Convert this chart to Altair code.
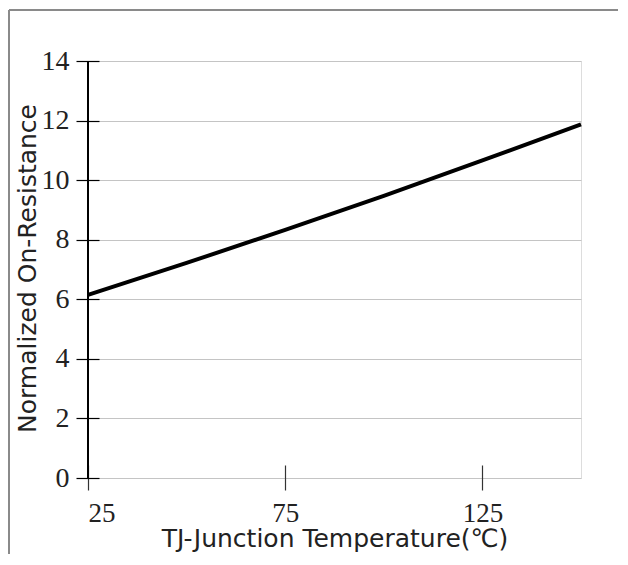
import altair as alt
import pandas as pd

# data
temps = [25, 50, 75, 100, 125, 150]
resist = [6.15, 7.22, 8.33, 9.47, 10.66, 11.87]
x_ticks = [25, 75, 125]
y_ticks = [0, 2, 4, 6, 8, 10, 12, 14]

df = pd.DataFrame({"t": temps, "r": resist})

W, H = 493, 417

x_scale = alt.Scale(domain=[25, 150], nice=False, zero=False)
y_scale = alt.Scale(domain=[0, 14], nice=False, zero=True)

line = alt.Chart(df).mark_line(color="black", strokeWidth=4).encode(
    x=alt.X("t:Q", scale=x_scale,
            axis=alt.Axis(values=x_ticks, title="TJ-Junction Temperature(℃)",
                          domain=False, grid=False, offset=-13, tickSize=25,
                          tickColor="#333333", tickWidth=1.2,
                          labelFont="Liberation Serif", labelFontSize=27,
                          labelColor="#222222", labelPadding=10,
                          titleFont="DejaVu Sans", titleFontSize=25,
                          titleFontWeight="normal", titleColor="#222222",
                          titleBaseline="alphabetic", titleY=81,
                          titleX=W / 2, titleAlign="center")),
    y=alt.Y("r:Q", scale=y_scale,
            axis=alt.Axis(values=y_ticks, title="Normalized On-Resistance",
                          domain=False, grid=True, gridColor="#c4c4c4",
                          gridWidth=1.2, offset=-11, tickSize=23,
                          tickColor="black", tickWidth=1.2,
                          labelFont="Liberation Serif", labelFontSize=28,
                          labelColor="#222222", labelPadding=7,
                          titleFont="DejaVu Sans", titleFontSize=25,
                          titleFontWeight="normal", titleColor="#222222",
                          titleBaseline="alphabetic", titleAngle=-90,
                          titleAlign="center", titleX=-64, titleY=207)),
)

yaxis_line = alt.Chart(df).mark_rule(color="black", strokeWidth=1.5).encode(
    x=alt.value(0), y=alt.value(0), y2=alt.value(H)
)
frame_top = alt.Chart(df).mark_rule(color="#8a8a8a", strokeWidth=2).encode(
    x=alt.value(-79), x2=alt.value(530), y=alt.value(-51)
)
frame_left = alt.Chart(df).mark_rule(color="#8a8a8a", strokeWidth=2).encode(
    x=alt.value(-79), y=alt.value(-51), y2=alt.value(H + 80)
)

chart = alt.layer(line, yaxis_line, frame_top, frame_left).properties(
    width=W, height=H,
    autosize=alt.AutoSizeParams(type="none"),
    padding={"left": 80, "top": 53, "right": 37, "bottom": 76},
).configure_view(stroke="#808080", strokeWidth=1.5).configure(background="white")

chart.save("out.html", embed_options={"renderer": "svg", "actions": False})
